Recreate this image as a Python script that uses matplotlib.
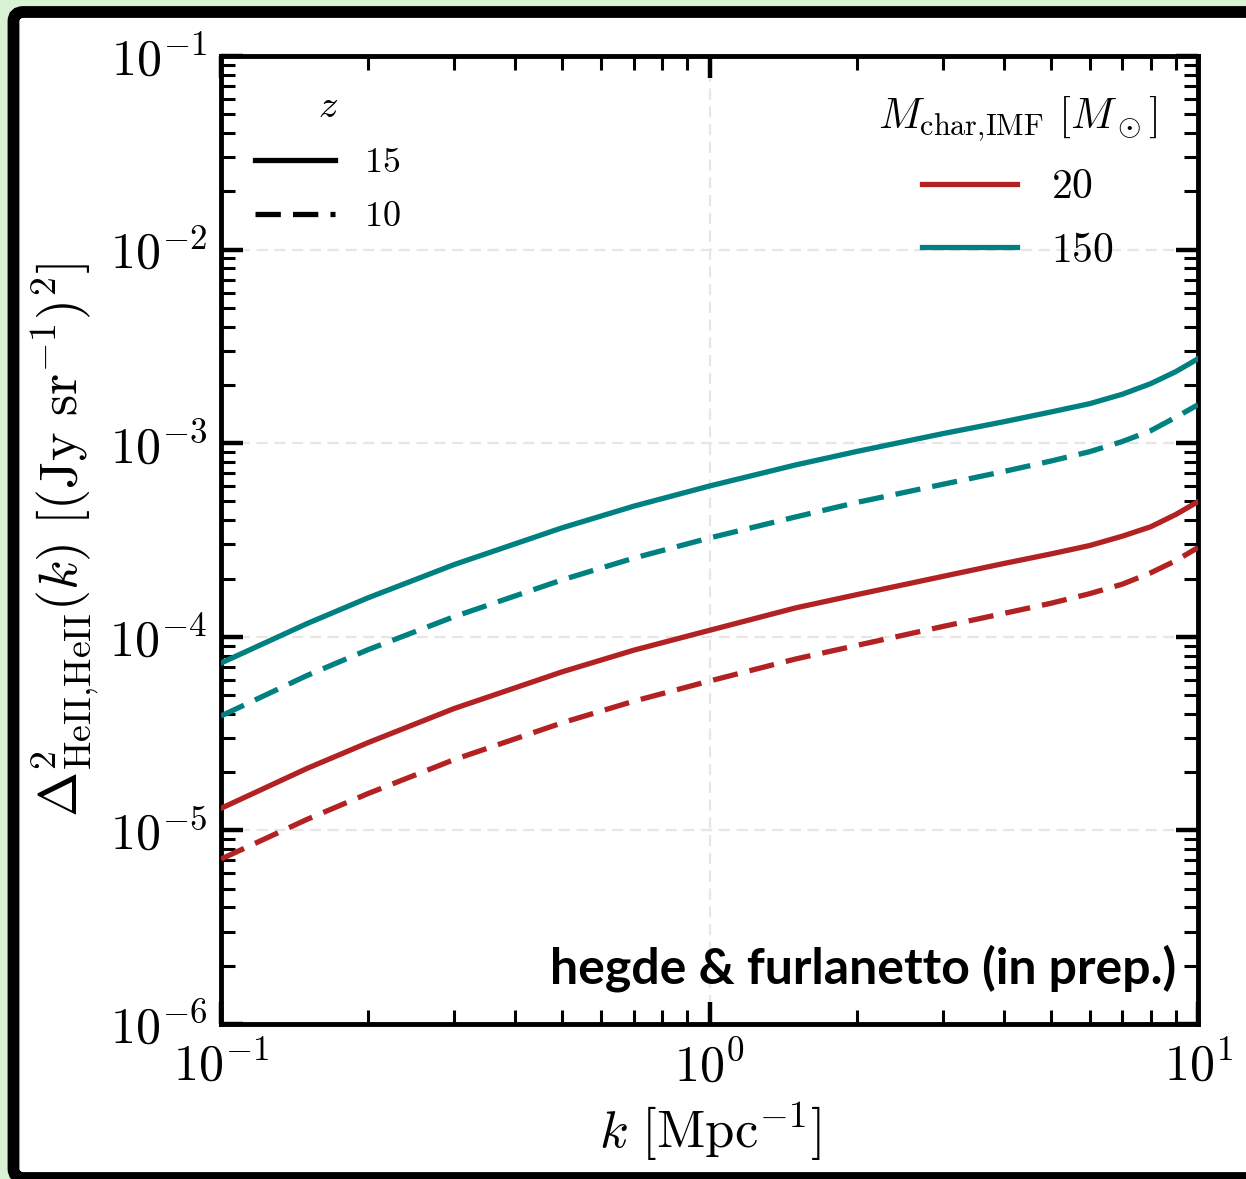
import numpy as np
import matplotlib
matplotlib.use("Agg")
import matplotlib.pyplot as plt
from matplotlib.patches import FancyBboxPatch
from matplotlib.lines import Line2D
from matplotlib.ticker import LogLocator, FuncFormatter, NullFormatter

plt.rcParams['mathtext.fontset'] = 'cm'
plt.rcParams['font.family'] = 'serif'
plt.rcParams['font.serif'] = ['cmr10', 'DejaVu Serif']
plt.rcParams['axes.unicode_minus'] = False

# wavenumbers [Mpc^-1]
k = [0.1, 0.15, 0.2, 0.3, 0.5, 0.7, 1.0, 1.5, 2.0, 3.0, 4.0, 5.0, 6.0, 7.0, 8.0, 9.0, 10.0]

# HeII auto power spectrum, M_char = 150 Msun
p150_z15 = [7.32e-5, 1.17e-4, 1.59e-4, 2.36e-4, 3.66e-4, 4.73e-4, 6.01e-4, 7.72e-4, 9.06e-4,
            1.12e-3, 1.29e-3, 1.45e-3, 1.60e-3, 1.79e-3, 2.03e-3, 2.34e-3, 2.73e-3]
p150_z10 = [3.90e-5, 6.31e-5, 8.58e-5, 1.27e-4, 1.97e-4, 2.55e-4, 3.24e-4, 4.16e-4, 4.94e-4,
            6.13e-4, 7.14e-4, 8.09e-4, 9.04e-4, 1.02e-3, 1.16e-3, 1.36e-3, 1.58e-3]
# M_char = 20 Msun
p20_z15 = [1.30e-5, 2.09e-5, 2.84e-5, 4.26e-5, 6.60e-5, 8.53e-5, 1.08e-4, 1.41e-4, 1.65e-4,
           2.05e-4, 2.39e-4, 2.68e-4, 2.96e-4, 3.31e-4, 3.70e-4, 4.28e-4, 4.99e-4]
p20_z10 = [7.11e-6, 1.14e-5, 1.55e-5, 2.32e-5, 3.60e-5, 4.65e-5, 5.91e-5, 7.68e-5, 9.02e-5,
           1.13e-4, 1.32e-4, 1.49e-4, 1.67e-4, 1.87e-4, 2.14e-4, 2.47e-4, 2.89e-4]

masses = ['20', '150']
redshifts = ['15', '10']
colors = {'20': '#b22222', '150': '#008080'}
styles = {'15': '-', '10': (0, (4.8, 2.3))}

W, H = 1246, 1179
fig = plt.figure(figsize=(W / 100, H / 100), dpi=100)
fig.patch.set_facecolor('#d9f2d3')

# black rounded card behind the axes
card = FancyBboxPatch((13.5 / W, 1.0 / H), (1260 - 13.5) / W, (H - 12 - 1) / H,
                      boxstyle='round,pad=0,rounding_size=0.008',
                      transform=fig.transFigure, facecolor='white',
                      edgecolor='black', linewidth=8.5, zorder=-10)
fig.patches.append(card)

ax = fig.add_axes([221 / W, (H - 1024) / H, (1198 - 221) / W, (1024 - 56) / H])
ax.set_facecolor('white')

series = {('20', '15'): p20_z15, ('20', '10'): p20_z10,
          ('150', '15'): p150_z15, ('150', '10'): p150_z10}
for (m, z), vals in series.items():
    ax.plot(k, vals, color=colors[m], linestyle=styles[z], lw=3.8, zorder=3)

ax.set_xscale('log')
ax.set_yscale('log')
ax.set_xlim(0.1, 10)
ax.set_ylim(1e-6, 1e-1)

fmt = FuncFormatter(lambda v, pos: r'$10^{%d}$' % round(np.log10(v)))
for axis in (ax.xaxis, ax.yaxis):
    axis.set_major_locator(LogLocator(base=10, numticks=20))
    axis.set_minor_locator(LogLocator(base=10, subs=np.arange(2, 10), numticks=20))
    axis.set_major_formatter(fmt)
    axis.set_minor_formatter(NullFormatter())

ax.tick_params(which='both', direction='in', top=True, right=True)
ax.tick_params(which='major', length=16, width=3.2, labelsize=36)
ax.tick_params(axis='x', which='major', pad=13)
ax.tick_params(axis='y', which='major', pad=10)
ax.tick_params(which='minor', length=10, width=2.2)
for s in ax.spines.values():
    s.set_linewidth(3.5)

ax.grid(which='major', color='#e6e6e6', linestyle=(0, (5, 3)), lw=1.6, zorder=0)

ax.set_xlabel(r'$k\ [{\rm Mpc}^{-1}]$', fontsize=38, labelpad=6)
ax.set_ylabel(r'$\Delta^2_{\rm HeII{,}HeII}(k)\ [({\rm Jy\ sr}^{-1})^2]$',
              fontsize=39, labelpad=6)

# redshift legend (line style)
z_handles = [Line2D([], [], color='black', linestyle=styles[z], lw=3.8) for z in redshifts]
leg1 = ax.legend(z_handles, [r'$%s$' % z for z in redshifts], title=r'$z$',
                 loc='upper left', bbox_to_anchor=(0.002, 0.999), frameon=False,
                 fontsize=26, title_fontsize=28, handlelength=2.2,
                 handletextpad=0.8, labelspacing=0.6)
ax.add_artist(leg1)

# mass legend (colour)
m_handles = [Line2D([], [], color=colors[m], lw=3.8) for m in masses]
leg2 = ax.legend(m_handles, [r'$%s$' % m for m in masses],
                 title=r'$M_{\rm char{,}IMF}\ [M_\odot]$',
                 loc='upper right', bbox_to_anchor=(0.997, 0.999), frameon=False,
                 fontsize=30, title_fontsize=31, handlelength=2.3,
                 handletextpad=0.8, labelspacing=0.62)

ax.text(0.978, 0.042, 'hegde & furlanetto (in prep.)', transform=ax.transAxes,
        ha='right', va='baseline', fontsize=36, fontweight='bold',
        family=['Lato', 'DejaVu Sans'], zorder=4)

fig.savefig('out.png', dpi=100, facecolor=fig.get_facecolor())
